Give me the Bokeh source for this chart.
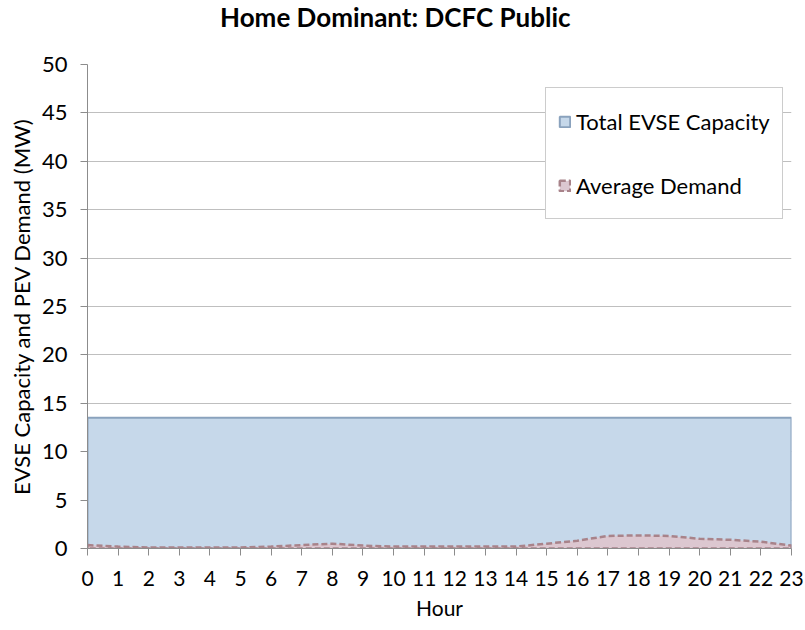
from bokeh.plotting import figure
from bokeh.layouts import column
from bokeh.models import Range1d, FixedTicker, Legend, LegendItem, Label
from bokeh.embed import file_html
from bokeh.resources import INLINE

hours = list(range(24))
capacity = [13.5] * 24
demand = [0.35, 0.2, 0.1, 0.1, 0.1, 0.1, 0.2, 0.35, 0.5, 0.3, 0.2, 0.2,
          0.2, 0.2, 0.2, 0.5, 0.8, 1.3, 1.35, 1.3, 1.0, 0.9, 0.7, 0.3]
y_ticks = list(range(0, 51, 5))
title_text = "Home Dominant: DCFC Public"

FONT = "Lato"
W = 805
TH = 40          # height of the title strip
H = 622 - TH     # height of the chart figure

# ---- title strip -----------------------------------------------------------
t = figure(width=W, height=TH, output_backend="svg", toolbar_location=None,
           x_range=Range1d(0, W), y_range=Range1d(0, TH),
           x_axis_type=None, y_axis_type=None,
           min_border_left=0, min_border_right=0, min_border_top=0, min_border_bottom=0)
t.outline_line_color = None
t.xgrid.grid_line_color = None
t.ygrid.grid_line_color = None
t.add_layout(Label(x=352, y=TH - 16, text=title_text,
                   text_align="center", text_baseline="middle", text_font=FONT,
                   text_font_size="26px", text_font_style="bold", text_color="black"))

# ---- chart -----------------------------------------------------------------
p = figure(width=W, height=H, output_backend="svg", toolbar_location=None,
           x_range=Range1d(0, 23), y_range=Range1d(0, 50),
           min_border_left=87, min_border_right=14, min_border_top=64 - TH, min_border_bottom=74)

# closed outlines of the areas, built from the series
area_x = hours + hours[::-1]
cap_y = capacity + [0] * len(hours)
dem_y = demand + [0] * len(hours)

cap_r = p.patch(x=area_x, y=cap_y, fill_color="#c6d8ea", fill_alpha=1,
                line_color="#8aa2bd", line_width=2)
dem_r = p.patch(x=area_x, y=dem_y, fill_color="#dcc7d0", fill_alpha=1,
                line_color="#a8838a", line_width=2.5, line_dash="6 3")

legend = Legend(items=[LegendItem(label="Total EVSE Capacity", renderers=[cap_r]),
                       LegendItem(label="Average Demand", renderers=[dem_r])],
                location=(458, 329))
legend.label_text_font = FONT
legend.label_text_font_size = "22px"
legend.label_text_color = "black"
legend.glyph_width = 13
legend.glyph_height = 13
legend.label_height = 42
legend.spacing = 22
legend.padding = 12
legend.margin = 0
legend.label_standoff = 5
legend.border_line_color = "#9a9a9a"
legend.border_line_width = 1
legend.background_fill_alpha = 1
p.add_layout(legend, "center")

p.xaxis.ticker = FixedTicker(ticks=hours)
p.yaxis.ticker = FixedTicker(ticks=y_ticks)
p.xaxis.axis_label = "Hour"
p.yaxis.axis_label = "EVSE Capacity and PEV Demand (MW)"
for ax in (p.xaxis, p.yaxis):
    ax.axis_label_text_font = FONT
    ax.axis_label_text_font_style = "normal"
    ax.axis_label_text_color = "black"
    ax.major_label_text_font = FONT
    ax.major_label_text_color = "black"
    ax.axis_line_color = "#8c8c8c"
    ax.major_tick_line_color = "#8c8c8c"
    ax.major_tick_out = 7
    ax.major_tick_in = 0
    ax.minor_tick_line_color = None
p.xaxis.major_label_text_font_size = "21px"
p.yaxis.major_label_text_font_size = "22px"
p.xaxis.axis_label_text_font_size = "21px"
p.yaxis.axis_label_text_font_size = "22px"
p.xaxis.major_label_standoff = 15
p.xaxis.axis_label_standoff = 6
p.yaxis.major_label_standoff = 13
p.yaxis.axis_label_standoff = 4

p.xgrid.grid_line_color = None
p.ygrid.grid_line_color = "#bfbfbf"
p.outline_line_color = None
p.background_fill_color = "white"

layout = column(t, p, spacing=0)
open("out.html", "w").write(file_html(layout, INLINE))
